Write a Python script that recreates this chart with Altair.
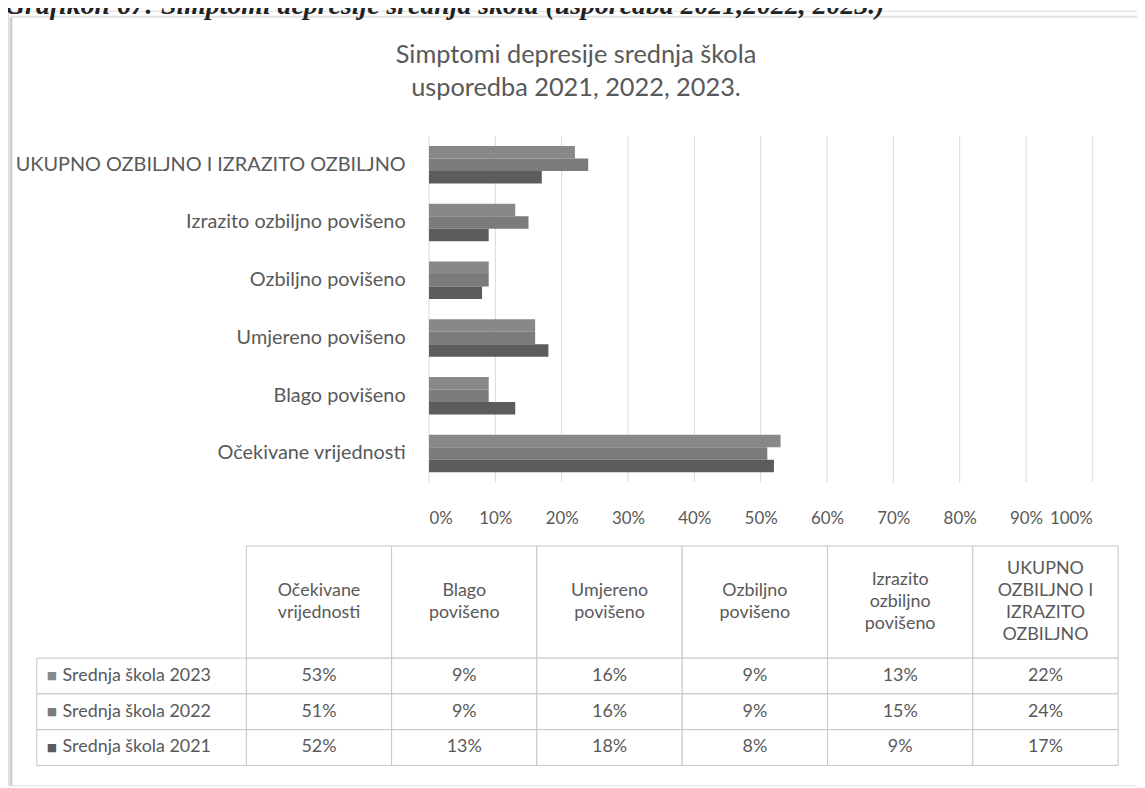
import altair as alt
import pandas as pd

# ---------------- data ----------------
categories = [
    "Očekivane vrijednosti",
    "Blago povišeno",
    "Umjereno povišeno",
    "Ozbiljno povišeno",
    "Izrazito ozbiljno povišeno",
    "UKUPNO OZBILJNO I IZRAZITO OZBILJNO",
]
header_labels = [
    "Očekivane|vrijednosti",
    "Blago|povišeno",
    "Umjereno|povišeno",
    "Ozbiljno|povišeno",
    "Izrazito|ozbiljno|povišeno",
    "UKUPNO|OZBILJNO I|IZRAZITO|OZBILJNO",
]
series = ["Srednja škola 2023", "Srednja škola 2022", "Srednja škola 2021"]
values_2023 = [53, 9, 16, 9, 13, 22]
values_2022 = [51, 9, 16, 9, 15, 24]
values_2021 = [52, 13, 18, 8, 9, 17]
x_ticks = [0, 10, 20, 30, 40, 50, 60, 70, 80, 90, 100]
title_lines = ["Simptomi depresije srednja škola", "usporedba 2021, 2022, 2023."]
caption = "Grafikon 67: Simptomi depresije srednja škola (usporedba 2021,2022, 2023.)"
colors = ["#888888", "#7b7b7b", "#5c5c5c"]

# ---------------- tables ----------------
rows = []
for s, vals in zip(series, [values_2023, values_2022, values_2021]):
    for c, v in zip(categories, vals):
        rows.append({"category": c, "series": s, "value": v})
df = pd.DataFrame(rows)

hdr_rows = []
for c, h in zip(categories, header_labels):
    parts = h.split("|")
    n = len(parts)
    for i, p in enumerate(parts):
        hdr_rows.append({"category": c, "line": p, "off": i - (n - 1) / 2})
hdr_lines_df = pd.DataFrame(hdr_rows)
hdr_df = pd.DataFrame({"category": categories})
ser_df = pd.DataFrame({"series": series})
tick_df = pd.DataFrame({"tick": x_ticks})
one = alt.Data(values=[{}])

bar_order = categories[::-1]
FONT = "Lato"
TXT = "#595959"
GRID = "#d9d9d9"
BORDER = "#c6c6c6"

# ---------------- bar chart ----------------
x_scale = alt.Scale(domain=[0, 100], range=[424, 1092], nice=False, zero=True)
x_axis = alt.Axis(orient="bottom", offset=-305, values=x_ticks,
                  labelExpr="datum.value + '%'", domain=False, ticks=False,
                  grid=False, labelPadding=28, labelFontSize=17, labelColor=TXT,
                  labelFont=FONT, title=None)
y_scale = alt.Scale(domain=bar_order, range=[126, 475], paddingInner=0.35, paddingOuter=0.175)

grid = alt.Chart(tick_df).mark_rule(color=GRID, strokeWidth=1).encode(
    x=alt.X("tick:Q", scale=x_scale, axis=x_axis),
    y=alt.value(126),
    y2=alt.value(475),
)

bars = alt.Chart(df).mark_bar().encode(
    x=alt.X("value:Q", scale=x_scale, axis=x_axis),
    y=alt.Y("category:N", sort=bar_order, scale=y_scale,
            axis=alt.Axis(orient="left", offset=-424, labelPadding=24, ticks=False,
                          domain=False, labelFontSize=20, labelColor=TXT, labelFont=FONT,
                          labelLimit=600, title=None)),
    yOffset=alt.YOffset("series:N", sort=series,
                        scale=alt.Scale(domain=series, paddingInner=0, paddingOuter=0)),
    color=alt.Color("series:N", scale=alt.Scale(domain=series, range=colors), legend=None),
)
bar_layer = alt.layer(grid, bars)

# ---------------- data table ----------------
tx_scale = alt.Scale(domain=categories, range=[240, 1118], paddingInner=0, paddingOuter=0)
hy_scale = alt.Scale(domain=["h"], range=[539, 652], paddingInner=0, paddingOuter=0)
by_scale = alt.Scale(domain=series, range=[652, 760], paddingInner=0, paddingOuter=0)
lx_scale = alt.Scale(domain=["lbl"], range=[29, 240], paddingInner=0, paddingOuter=0)

hdr_rect = alt.Chart(hdr_df).transform_calculate(row="'h'").mark_rect(
    fill="white", stroke=BORDER, strokeWidth=1).encode(
    x=alt.X("category:N", sort=categories, scale=tx_scale, axis=None),
    y=alt.Y("row:N", scale=hy_scale, axis=None),
)
# header lines: line index around the header centre, 22 px per line
hdr_text = alt.Chart(hdr_lines_df).mark_text(
    font=FONT, fontSize=18, color=TXT, baseline="middle").encode(
    x=alt.X("category:N", sort=categories, scale=tx_scale, axis=None),
    y=alt.Y("off:Q", scale=alt.Scale(domain=[-2, 2], range=[551.5, 639.5],
                                     zero=False, nice=False), axis=None),
    text="line:N",
)

body_base = alt.Chart(df).transform_calculate(
    label="datum.value + '%'"
).encode(
    x=alt.X("category:N", sort=categories, scale=tx_scale, axis=None),
    y=alt.Y("series:N", sort=series, scale=by_scale, axis=None),
)
body_layer = alt.layer(
    body_base.mark_rect(fill="white", stroke=BORDER, strokeWidth=1),
    body_base.mark_text(font=FONT, fontSize=18, color=TXT, baseline="middle").encode(text="label:N"),
)

lbl_base = alt.Chart(ser_df).transform_calculate(col="'lbl'").encode(
    y=alt.Y("series:N", sort=series, scale=by_scale, axis=None),
)
lbl_layer = alt.layer(
    lbl_base.mark_rect(fill="white", stroke=BORDER, strokeWidth=1).encode(
        x=alt.X("col:N", scale=lx_scale, axis=None)),
    lbl_base.mark_text(text="■", font="DejaVu Sans", fontSize=11, align="left",
                       baseline="middle", dx=10).encode(
        x=alt.X("col:N", scale=lx_scale, axis=None, bandPosition=0),
        color=alt.Color("series:N", scale=alt.Scale(domain=series, range=colors), legend=None)),
    lbl_base.mark_text(font=FONT, fontSize=18, color=TXT, align="left", baseline="middle", dx=26).encode(
        x=alt.X("col:N", scale=lx_scale, axis=None, bandPosition=0),
        text="series:N"),
)

# ---------------- titles & frame ----------------
frame_left = alt.Chart(one).mark_rule(color="#cfcfcf", strokeWidth=3).encode(
    x=alt.value(3), y=alt.value(6), y2=alt.value(780))
frame_top = alt.Chart(one).mark_rule(color="#e2e2e2", strokeWidth=2).encode(
    x=alt.value(3), x2=alt.value(1137), y=alt.value(6))
cap = alt.Chart(one).mark_text(text=caption, font="Liberation Serif", fontStyle="italic",
                               fontWeight="bold", fontSize=28, align="left",
                               baseline="alphabetic", color="#222222").encode(
    x=alt.value(-3), y=alt.value(3))
ttl = alt.Chart(one).mark_text(text=title_lines, font=FONT, fontSize=25.5, color=TXT,
                               lineHeight=33, align="center", baseline="middle").encode(
    x=alt.value(572), y=alt.value(45))

chart = alt.layer(
    frame_left, frame_top, cap, ttl,
    bar_layer, hdr_rect, hdr_text, body_layer, lbl_layer,
).resolve_scale(
    x="independent", y="independent"
).properties(
    width=1137, height=780, autosize=alt.AutoSizeParams(type="none"), padding=0,
).configure_view(stroke=None).configure(background="white")

chart.save("out.html", embed_options={"renderer": "svg", "actions": False})
